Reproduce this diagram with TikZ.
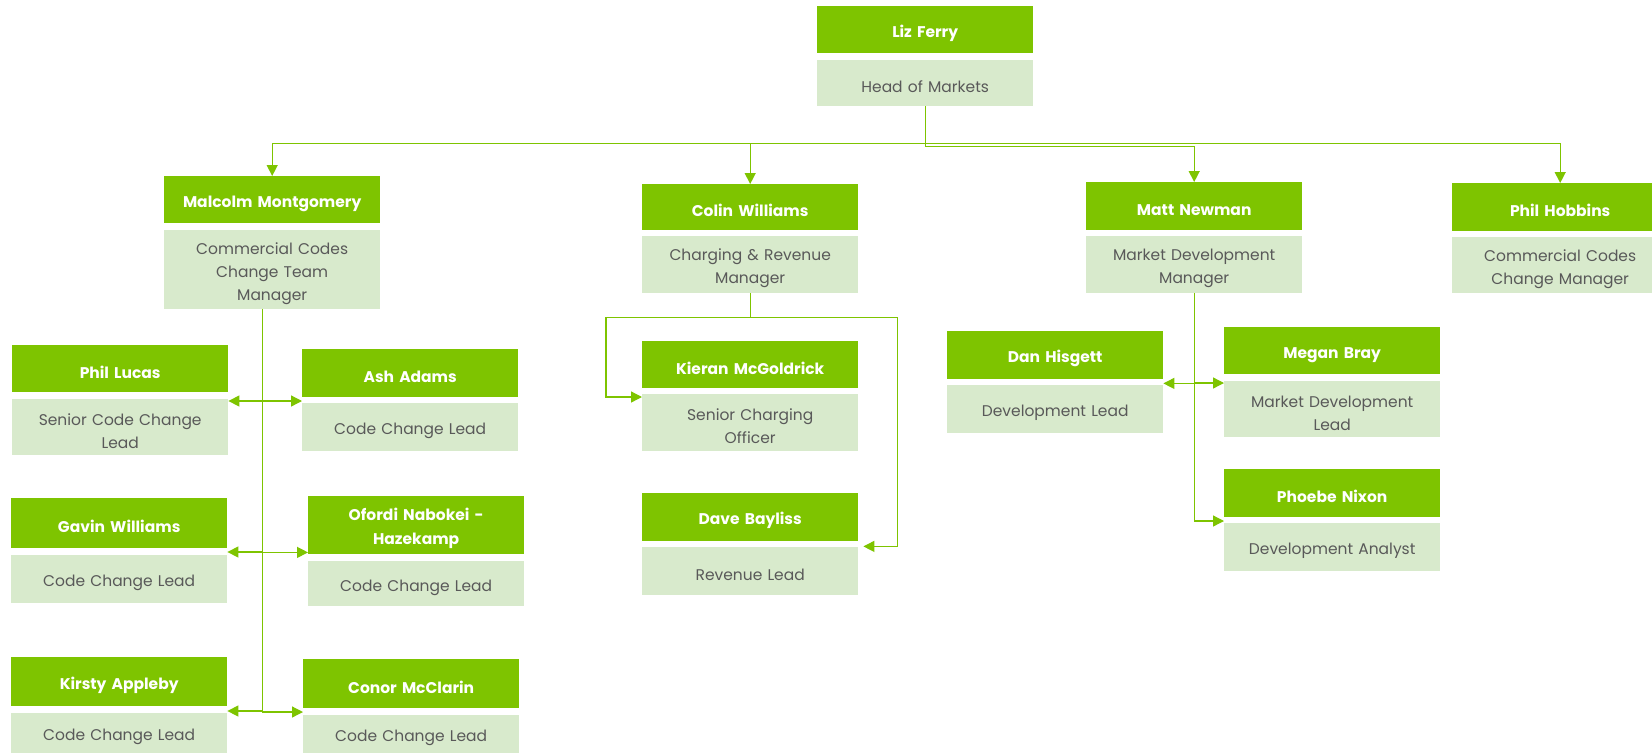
\documentclass[tikz,border=0pt]{standalone}
\usepackage{fontspec}
\setmainfont{Poppins}
\usetikzlibrary{arrows.meta}
\definecolor{leafgreen}{HTML}{7EC400}
\definecolor{palegreen}{HTML}{D8EACC}
\definecolor{rolegrey}{HTML}{595959}
\tikzset{
  namebox/.style={fill=leafgreen, text=white, font=\bfseries\fontsize{15.5}{24}\selectfont,
    anchor=north west, minimum width=216pt, text width=204pt, align=center,
    inner sep=0pt, minimum height=#1, execute at begin node={\rule{0pt}{19pt}}},
  namebox/.default=48pt,
  rolebox/.style={fill=palegreen, text=rolegrey, font=\fontsize{15.5}{23}\selectfont,
    anchor=north west, minimum width=216pt, text width=206pt, align=center,
    inner sep=0pt, minimum height=#1, execute at begin node={\rule{0pt}{19pt}}},
  rolebox/.default=48pt,
  link/.style={draw=leafgreen, line width=1.3pt, -{Triangle[length=11pt,width=11pt]}}
}
\begin{document}
\begin{tikzpicture}[x=1pt,y=-1pt]
      \useasboundingbox (0,0) rectangle (1652,753);
      \fill[white] (0,0) rectangle (1652,753);
      \draw
        (817,6) node[namebox=47pt] (liz){Liz Ferry}
        (817,60) node[rolebox=46pt] (lizrole){Head of Markets}
        (164,176) node[namebox=47pt] (malcolm){Malcolm Montgomery}
        (164,230) node[rolebox=79pt] (malcolmrole){Commercial Codes\\Change Team\\Manager}
        (642,184) node[namebox=46pt] (colin){Colin Williams}
        (642,236) node[rolebox=57pt] (colinrole){Charging \& Revenue\\Manager}
        (1086,182) node[namebox] (matt){Matt Newman}
        (1086,236) node[rolebox=57pt] (mattrole){Market Development\\Manager}
        (1452,183) node[namebox] (hobbins){Phil Hobbins}
        (1452,237) node[rolebox=56pt] (hobbinsrole){Commercial Codes\\Change Manager}
        (12,345) node[namebox=47pt] (lucas){Phil Lucas}
        (12,399) node[rolebox=56pt] (lucasrole){Senior Code Change\\Lead}
        (302,349) node[namebox] (ash){Ash Adams}
        (302,403) node[rolebox] (ashrole){Code Change Lead}
        (11,498) node[namebox=50pt] (gavin){Gavin Williams}
        (11,555) node[rolebox] (gavinrole){Code Change Lead}
        (308,496) node[namebox=58pt] (ofordi){Ofordi Nabokei -\\Hazekamp}
        (308,561) node[rolebox=45pt] (ofordirole){Code Change Lead}
        (11,657) node[namebox=49pt] (kirsty){Kirsty Appleby}
        (11,713) node[rolebox=40pt] (kirstyrole){Code Change Lead}
        (303,659) node[namebox=49pt] (conor){Conor McClarin}
        (303,715) node[rolebox=38pt] (conorrole){Code Change Lead}
        (642,341) node[namebox=47pt] (kieran){Kieran McGoldrick}
        (642,394) node[rolebox=57pt] (kieranrole){Senior Charging\\Officer}
        (642,493) node[namebox] (dave){Dave Bayliss}
        (642,547) node[rolebox] (daverole){Revenue Lead}
        (947,331) node[namebox] (dan){Dan Hisgett}
        (947,385) node[rolebox] (danrole){Development Lead}
        (1224,327) node[namebox=47pt] (megan){Megan Bray}
        (1224,381) node[rolebox=56pt] (meganrole){Market Development\\Lead}
        (1224,469) node[namebox] (phoebe){Phoebe Nixon}
        (1224,523) node[rolebox] (phoeberole){Development Analyst};
      \begin{scope}[link]
        \draw (lizrole.south) -- ++(0,37) -| (malcolm.north);
        \draw (lizrole.south) -- ++(0,37) -| (colin.north);
        \draw (lizrole.south) -- ++(0,40) -| (matt.north);
        \draw (lizrole.south) -- ++(0,37) -| (hobbins.north);
        \draw ([xshift=-10pt]malcolmrole.south) |- ([yshift=-2pt]lucasrole.north east);
        \draw ([xshift=-10pt]malcolmrole.south) |- ([yshift=2pt]ashrole.north west);
        \draw ([xshift=-10pt]malcolmrole.south) |- ([yshift=3pt]gavinrole.north east);
        \draw ([xshift=-10pt]malcolmrole.south) |- ([yshift=2pt]ofordi.south west);
        \draw ([xshift=-10pt]malcolmrole.south) |- ([yshift=2pt]kirstyrole.north east);
        \draw ([xshift=-10pt]malcolmrole.south) |- ([yshift=3pt]conorrole.north west);
        \draw (colinrole.south) -- ++(0,24) -| ([xshift=-36pt,yshift=-3pt]kieranrole.north west)
          -- ([yshift=-3pt]kieranrole.north west);
        \draw (colinrole.south) -- ++(0,24) -| ([xshift=39pt,yshift=-5pt]dave.south east)
          -- ([xshift=5pt,yshift=-5pt]dave.south east);
        \draw (mattrole.south) |- ([yshift=-4pt]dan.south east);
        \draw (mattrole.south) |- ([yshift=-2pt]meganrole.north west);
        \draw (mattrole.south) |- ([yshift=2pt]phoeberole.north west);
      \end{scope}
    \end{tikzpicture}
\end{document}
